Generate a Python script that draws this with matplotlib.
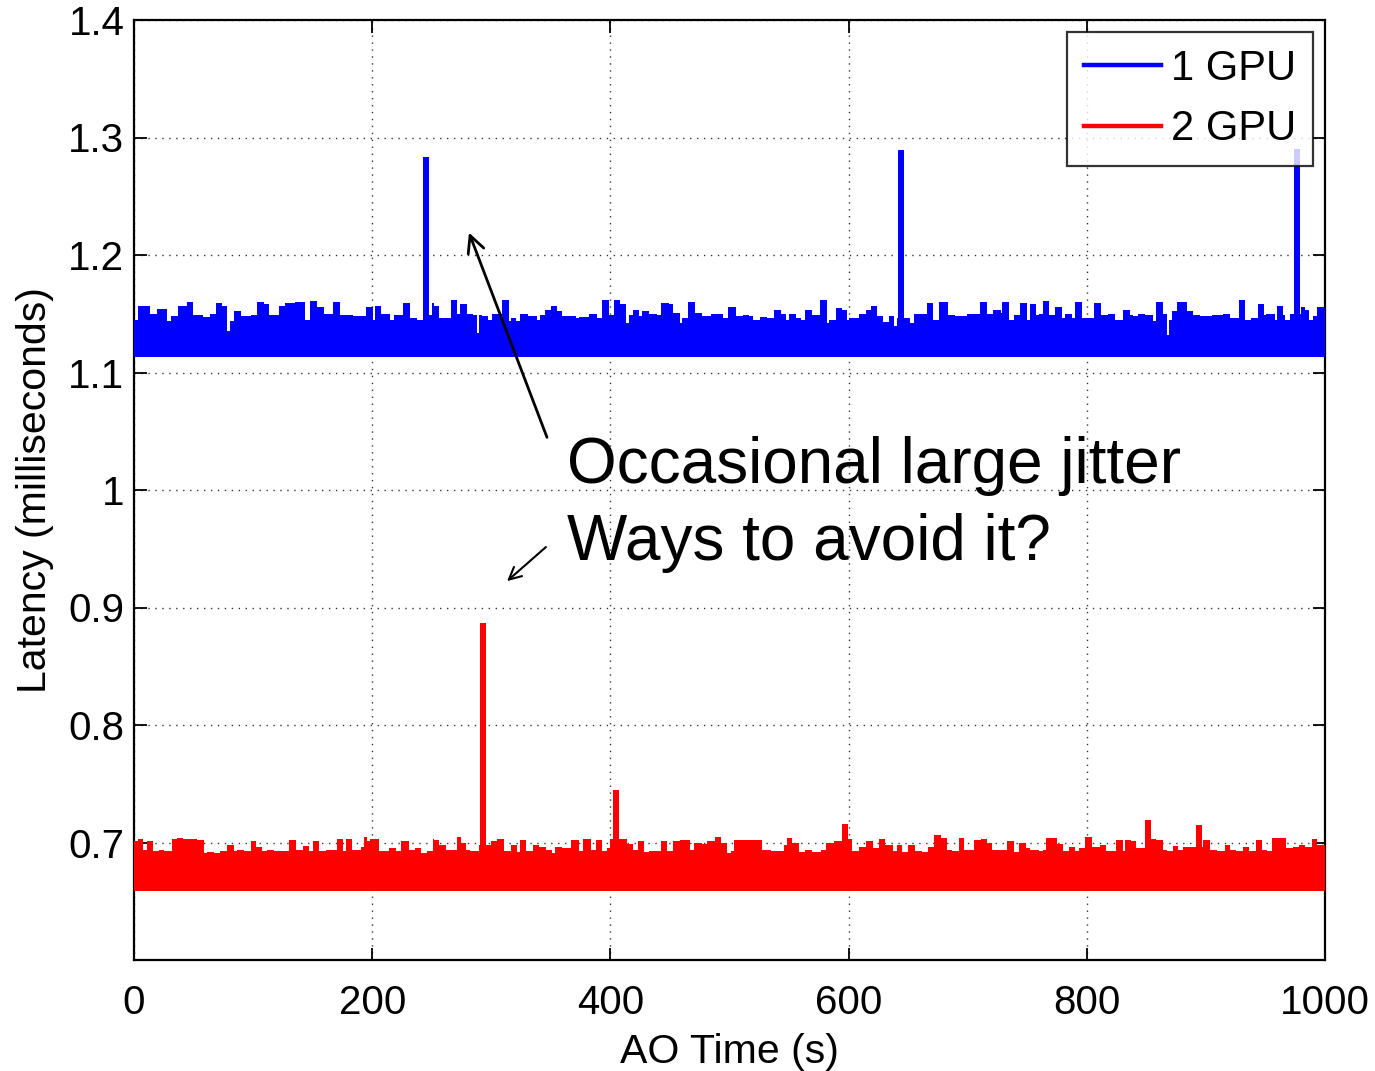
import matplotlib
matplotlib.use("Agg")
import matplotlib.pyplot as plt
from matplotlib.lines import Line2D
import numpy as np

plt.rcParams['font.family'] = ['Liberation Sans', 'DejaVu Sans']

# ---------------- data ----------------
# 1 GPU: upper envelope of the jitter band, step starts (s) and values (ms)
gpu1_t = [0.0, 3.4, 13.4, 19.0, 27.4, 31.3, 37.2, 44.2, 49.8, 58.2, 63.8, 69.1, 74.2, 78.4, 80.6,
          84.0, 89.6, 98.0, 103.0, 109.2, 113.4, 122.0, 126.5, 134.9, 143.6, 147.8, 153.9, 159.5,
          167.4, 173.0, 184.2, 194.5, 200.4, 202.1, 207.7, 214.9, 218.3, 226.1, 231.7, 237.9,
          247.7, 250.5,
          251.9, 256.1, 265.9, 271.5, 273.7, 279.3, 284.9, 288.3, 290.0, 292.5, 297.2, 300.9, 309.3,
          314.9, 316.8, 320.5, 324.1, 330.8, 338.7, 340.9, 344.8, 349.9, 354.9, 359.7, 365.3, 370.8,
          373.7, 382.0, 389.0, 393.2, 398.8, 403.0, 408.1, 412.8, 415.6, 419.3, 424.0, 426.8, 432.4,
          438.9, 442.2, 449.2, 452.9, 458.4, 460.4, 465.2, 470.8, 477.2, 484.2, 494.8, 498.8,
          503.8, 505.2, 511.6, 516.4, 520.0, 525.6, 531.2, 537.4, 543.0, 547.2, 550.0, 555.6, 559.8,
          563.7, 569.6, 576.0, 581.6, 583.6, 589.2, 594.8, 599.0, 600.4, 608.8, 614.3, 618.6, 624.1,
          629.2, 633.9, 638.1, 641.0, 646.5, 651.6, 654.9, 660.5, 665.6, 671.2, 675.9, 683.5, 689.1,
          694.1, 699.7, 705.3, 710.3, 716.5, 721.5, 727.7, 729.1, 734.7, 738.9, 743.9, 749.5,
          752.3, 757.3, 760.1, 763.5, 768.5, 773.3, 778.9, 781.7, 787.3, 790.1, 795.7, 806.0, 811.6,
          818.1, 823.7, 830.7, 836.3, 839.1, 843.3, 848.9, 855.9, 858.1, 863.7, 867.1, 869.3, 871.3,
          875.4, 884.4, 889.4, 895.0, 904.8, 914.6, 920.2, 928.1, 932.8, 937.6, 944.0, 948.8, 950.5,
          958.0, 959.4, 964.4, 966.4, 970.6, 974.2, 979.6, 983.2, 986.8, 989.6, 993.6]
gpu1_hi = [1.145, 1.157, 1.150, 1.154, 1.144, 1.148, 1.157, 1.160, 1.149, 1.147, 1.150, 1.159, 1.157, 1.135, 1.144,
           1.152, 1.148, 1.149, 1.160, 1.158, 1.149, 1.157, 1.159, 1.160, 1.145, 1.161, 1.156, 1.150,
           1.160, 1.149, 1.148, 1.156, 1.145, 1.157, 1.150, 1.145, 1.149, 1.159, 1.146, 1.145,
           1.149, 1.159,
           1.157, 1.146, 1.162, 1.150, 1.158, 1.150, 1.149, 1.134, 1.149, 1.148, 1.145, 1.150, 1.162,
           1.144, 1.146, 1.144, 1.150, 1.148, 1.145, 1.149, 1.153, 1.157, 1.152, 1.148, 1.148, 1.146,
           1.147, 1.150, 1.146, 1.162, 1.149, 1.162, 1.158, 1.142, 1.149, 1.153, 1.148, 1.152, 1.150,
           1.149, 1.159, 1.158, 1.151, 1.142, 1.146, 1.160, 1.151, 1.148, 1.150, 1.146, 1.156,
           1.156, 1.148, 1.149, 1.148, 1.145, 1.147, 1.146, 1.153, 1.150, 1.145, 1.150, 1.146, 1.145,
           1.153, 1.149, 1.162, 1.142, 1.145, 1.155, 1.153, 1.145, 1.146, 1.150, 1.153, 1.157, 1.148,
           1.143, 1.148, 1.140, 1.146, 1.146, 1.142, 1.150, 1.150, 1.159, 1.145, 1.160, 1.149, 1.148,
           1.148, 1.150, 1.150, 1.160, 1.150, 1.153, 1.151, 1.160, 1.145, 1.149, 1.159, 1.145,
           1.158, 1.149, 1.150, 1.161, 1.149, 1.156, 1.146, 1.150, 1.146, 1.160, 1.146, 1.159, 1.149,
           1.150, 1.145, 1.153, 1.149, 1.148, 1.150, 1.149, 1.144, 1.160, 1.150, 1.132, 1.145, 1.152,
           1.160, 1.152, 1.149, 1.148, 1.149, 1.150, 1.146, 1.162, 1.145, 1.146, 1.158, 1.149, 1.150,
           1.145, 1.157, 1.149, 1.145, 1.150, 1.150, 1.156, 1.153, 1.145, 1.148, 1.156]
gpu1_lo = 1.113
gpu1_spike_t = [245.0, 644.0, 976.5]
gpu1_spike_v = [1.283, 1.289, 1.290]

# 2 GPU: upper envelope of the jitter band
gpu2_t = [0.0, 3.4, 7.8, 10.6, 16.2, 21.0, 25.2, 32.2, 35.8, 41.4, 47.6, 53.2, 58.8, 61.6, 67.2, 72.2,
          78.4, 84.0, 86.2, 92.4, 98.0, 102.2, 107.8, 112.0, 117.5, 123.1, 130.1, 135.7, 142.2, 146.9,
          150.6, 155.3, 160.9, 165.1, 170.7, 175.8, 178.0, 183.3, 187.0, 190.3, 193.1, 195.9, 198.2,
          200.1, 205.7, 214.1, 219.7, 223.9, 230.9, 235.7, 240.7, 246.3, 251.3,
          251.9, 256.1, 261.7, 270.9, 274.8, 278.5, 282.1, 289.7, 295.3, 299.5, 305.1, 310.7, 316.8,
          321.9, 324.1, 328.9, 335.3, 340.1, 345.7, 351.3, 353.2, 359.7, 366.7, 373.7, 377.3, 383.4,
          387.6, 393.2, 397.4, 399.7, 402.5, 407.2, 414.2, 419.3, 423.2, 428.2, 432.4, 438.9, 442.2,
          447.8, 452.9, 458.4, 466.8, 470.2, 477.2, 481.4, 487.6, 492.6, 497.6, 501.0,
          503.8, 527.6, 534.6, 539.6, 545.8, 548.6, 552.8, 558.4, 563.1, 569.6, 576.6, 580.8, 587.8,
          594.8, 599.0, 603.2, 608.8, 614.3, 620.8, 625.5, 630.3, 637.6, 640.4, 645.1, 649.9, 655.5,
          661.9, 666.7, 671.7, 677.3, 682.9, 687.1, 692.7, 696.9, 705.3, 710.9, 715.9, 720.7, 724.9,
          733.3, 738.9, 743.1, 748.7,
          752.3, 760.1, 763.5, 765.7, 775.3, 780.3, 785.3, 790.1, 793.7, 798.5, 804.1, 811.1, 816.1,
          824.5, 830.1, 832.1, 836.8, 841.3, 848.0, 853.6, 858.1, 863.7, 867.6, 872.1, 876.8, 880.5,
          890.8, 897.8, 903.4, 909.0, 916.0, 920.2, 925.3, 931.4, 936.5, 942.1, 946.8, 951.0, 955.2,
          967.2, 973.4, 978.4, 983.2, 988.8, 993.6]
gpu2_hi = [0.701, 0.703, 0.694, 0.701, 0.693, 0.694, 0.693, 0.703, 0.704, 0.703, 0.703, 0.702, 0.691, 0.692, 0.691, 0.693,
           0.698, 0.693, 0.694, 0.693, 0.701, 0.696, 0.693, 0.694, 0.693, 0.693, 0.702, 0.694, 0.697, 0.693,
           0.701, 0.693, 0.694, 0.694, 0.703, 0.693, 0.703, 0.694, 0.694, 0.696, 0.705, 0.701, 0.703,
           0.703, 0.693, 0.695, 0.693, 0.701, 0.694, 0.695, 0.691, 0.693, 0.703,
           0.702, 0.698, 0.694, 0.705, 0.700, 0.694, 0.693, 0.698, 0.698, 0.701, 0.703, 0.693, 0.698,
           0.692, 0.702, 0.693, 0.698, 0.696, 0.694, 0.691, 0.696, 0.695, 0.702, 0.693, 0.703, 0.694,
           0.702, 0.693, 0.695, 0.703, 0.703, 0.703, 0.699, 0.694, 0.701, 0.692, 0.693, 0.693, 0.701,
           0.693, 0.701, 0.702, 0.694, 0.700, 0.699, 0.701, 0.705, 0.700, 0.691, 0.693,
           0.702, 0.694, 0.693, 0.693, 0.698, 0.704, 0.700, 0.692, 0.694, 0.692, 0.694, 0.700, 0.701,
           0.701, 0.703, 0.693, 0.696, 0.701, 0.695, 0.703, 0.698, 0.693, 0.698, 0.692, 0.698, 0.693,
           0.692, 0.696, 0.706, 0.704, 0.694, 0.693, 0.704, 0.694, 0.702, 0.703, 0.700, 0.694, 0.694,
           0.701, 0.692, 0.700, 0.695,
           0.694, 0.693, 0.694, 0.704, 0.699, 0.693, 0.696, 0.693, 0.695, 0.705, 0.696, 0.698, 0.693,
           0.702, 0.693, 0.702, 0.701, 0.695, 0.695, 0.703, 0.702, 0.694, 0.693, 0.697, 0.694, 0.696,
           0.696, 0.702, 0.694, 0.693, 0.698, 0.694, 0.693, 0.696, 0.693, 0.702, 0.694, 0.693, 0.704,
           0.695, 0.696, 0.698, 0.696, 0.703, 0.698]
gpu2_lo = 0.659
gpu2_spike_t = [293.0, 405.0, 597.0, 851.0, 894.0]
gpu2_spike_v = [0.887, 0.745, 0.716, 0.719, 0.715]

series_labels = ['1 GPU', '2 GPU']
x_ticks = [0, 200, 400, 600, 800, 1000]
y_ticks = [0.7, 0.8, 0.9, 1.0, 1.1, 1.2, 1.3, 1.4]
y_ticklabels = ['0.7', '0.8', '0.9', '1', '1.1', '1.2', '1.3', '1.4']
t_end = 1000.0

# ---------------- figure ----------------
W, H = 1375, 1071
fig = plt.figure(figsize=(W / 100, H / 100), dpi=100)
ax = fig.add_axes([134 / W, 1 - 960 / H, 1191 / W, 940 / H])

colors = ['#0000ff', '#ff0000']
for t, hi, lo, st, sv, c in [(gpu1_t, gpu1_hi, gpu1_lo, gpu1_spike_t, gpu1_spike_v, colors[0]),
                             (gpu2_t, gpu2_hi, gpu2_lo, gpu2_spike_t, gpu2_spike_v, colors[1])]:
    edges = list(t) + [t_end]
    ax.stairs(hi, edges, baseline=[lo] * len(hi), fill=True, color=c, lw=0, zorder=3)
    ax.bar(st, [v - lo for v in sv], bottom=lo, width=5, color=c, lw=0, zorder=3)

ax.set_xlim(0, 1000)
ax.set_ylim(0.6, 1.4)
ax.set_xticks(x_ticks)
ax.set_yticks(y_ticks)
ax.set_yticklabels(y_ticklabels)
ax.tick_params(direction='in', length=9, width=1.3, labelsize=29, top=True, right=True)
ax.tick_params(axis='x', pad=17)
ax.tick_params(axis='y', pad=7)
for s in ax.spines.values():
    s.set_linewidth(1.6)
ax.grid(True, linestyle=(0, (1, 4)), color='#333333', linewidth=1.0)
ax.set_axisbelow(True)

ax.set_xlabel('AO Time (s)', fontsize=29.5, labelpad=8)
ax.set_ylabel('Latency (milliseconds)', fontsize=29.5, labelpad=10)

handles = [Line2D([], [], color=c, lw=3.2) for c in colors]
leg = ax.legend(handles, series_labels, loc='upper right',
                bbox_to_anchor=(1313 / W, 1 - 32 / H), bbox_transform=fig.transFigure,
                fontsize=30, frameon=True, fancybox=False, borderaxespad=0,
                handlelength=1.85, handletextpad=0.25, labelspacing=0.5, borderpad=0.4)
leg.get_frame().set_edgecolor('black')
leg.get_frame().set_linewidth(1.6)
leg.set_zorder(10)

# annotations
ax.text(363.6, 1.006, 'Occasional large jitter', fontsize=46, va='baseline', ha='left', zorder=6)
ax.text(363.6, 0.9404, 'Ways to avoid it?', fontsize=46, va='baseline', ha='left', zorder=6)
ax.annotate('', xy=(280.4, 1.2213), xytext=(347.6, 1.0426),
            arrowprops=dict(arrowstyle='->', lw=2, color='black', mutation_scale=30), zorder=6)
ax.annotate('', xy=(311.5, 0.9209), xytext=(347.6, 0.953),
            arrowprops=dict(arrowstyle='->', lw=1.5, color='black', mutation_scale=22), zorder=6)

fig.savefig('out.png', dpi=100)
